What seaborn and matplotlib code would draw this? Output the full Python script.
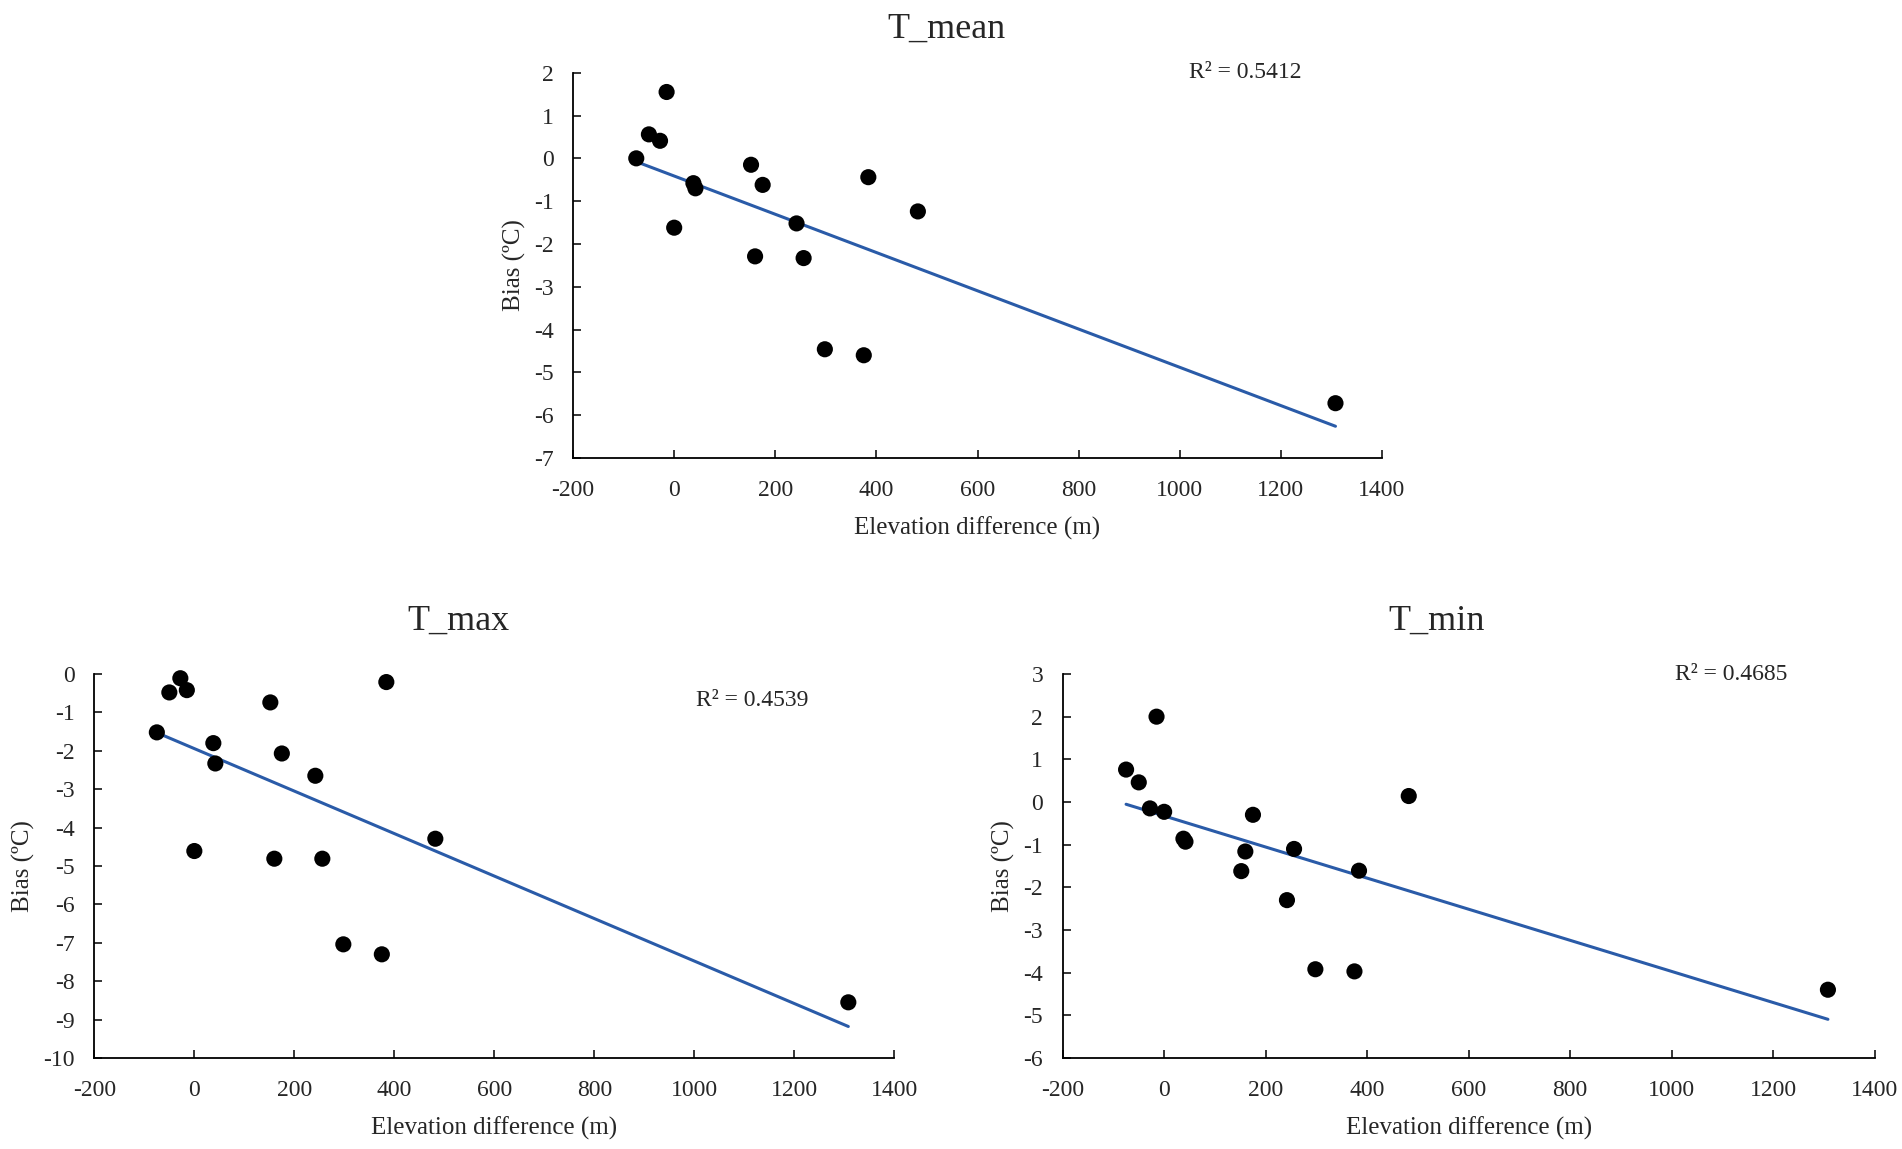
import matplotlib
matplotlib.use("Agg")
import matplotlib.pyplot as plt
import seaborn as sns
import pandas as pd
import numpy as np

# elevation difference of each station (m), shared by the three panels
elev_diff = [-75, -50, -28, -15, 0, 38, 42, 152, 160, 175, 242, 256, 298, 375, 384, 482, 1308]

# bias of each temperature variable (degC)
bias_mean = [0.0, 0.56, 0.41, 1.55, -1.62, -0.58, -0.70, -0.15, -2.29, -0.62,
             -1.52, -2.33, -4.46, -4.60, -0.44, -1.24, -5.72]
bias_max = [-1.52, -0.48, -0.11, -0.42, -4.61, -1.80, -2.33, -0.74, -4.81, -2.07,
            -2.65, -4.81, -7.04, -7.30, -0.21, -4.29, -8.55]
bias_min = [0.76, 0.46, -0.15, 2.0, -0.23, -0.86, -0.93, -1.62, -1.16, -0.30,
            -2.30, -1.10, -3.92, -3.97, -1.61, 0.14, -4.40]

r2_labels = ["R\u00b2 = 0.5412", "R\u00b2 = 0.4539", "R\u00b2 = 0.4685"]
x_ticks = list(range(-200, 1401, 200))

sns.set_style("ticks")
plt.rcParams['font.family'] = ['Liberation Serif', 'DejaVu Serif']
plt.rcParams['axes.unicode_minus'] = False

LINE_BLUE = '#2a5ba8'


# One scatter panel with a linear trend line
def bias_panel(ax, y, title, ylim, r2, r2_xy, title_x, title_y):
    df = pd.DataFrame({'elev': elev_diff, 'bias': y})
    sns.regplot(data=df, x='elev', y='bias', ax=ax, ci=None, scatter=False,
                truncate=True, line_kws={'color': LINE_BLUE, 'lw': 2.2})
    sns.scatterplot(data=df, x='elev', y='bias', ax=ax, color='black',
                    s=135, edgecolor='none', zorder=3, clip_on=False)
    ax.set_xlim(-200, 1400)
    ax.set_ylim(*ylim)
    ax.set_xticks(x_ticks)
    ax.set_yticks(np.arange(ylim[0], ylim[1] + 1, 1))
    ax.set_xlabel("Elevation difference (m)", fontsize=18, labelpad=11)
    ax.set_ylabel("Bias (\u00baC)", fontsize=18, labelpad=6)
    ax.tick_params(direction='in', length=6, width=1.3, labelsize=17, pad=14)
    ax.tick_params(axis='x', pad=16)
    for side in ['top', 'right']:
        ax.spines[side].set_visible(False)
    for side in ['left', 'bottom']:
        ax.spines[side].set_linewidth(1.3)
        ax.spines[side].set_color('black')
    ax.set_title(title, fontsize=26, x=title_x, y=title_y, pad=0)
    ax.text(r2_xy[0], r2_xy[1], r2, fontsize=17, ha='center', va='center')


fig = plt.figure(figsize=(19.02, 11.49), dpi=100)
ax_mean = fig.add_axes([0.3013, 0.6014, 0.4253, 0.3353])
ax_max = fig.add_axes([0.0496, 0.0792, 0.4206, 0.3342])
ax_min = fig.add_axes([0.5587, 0.0792, 0.4269, 0.3342])

bias_panel(ax_mean, bias_mean, "T_mean", (-7, 2), r2_labels[0], (1129, 2.0), 0.462, 1.09)
bias_panel(ax_max, bias_max, "T_max", (-10, 0), r2_labels[1], (1115, -0.7), 0.455, 1.115)
bias_panel(ax_min, bias_min, "T_min", (-6, 3), r2_labels[2], (1118, 3.0), 0.461, 1.115)

fig.savefig("out.png", dpi=100)
